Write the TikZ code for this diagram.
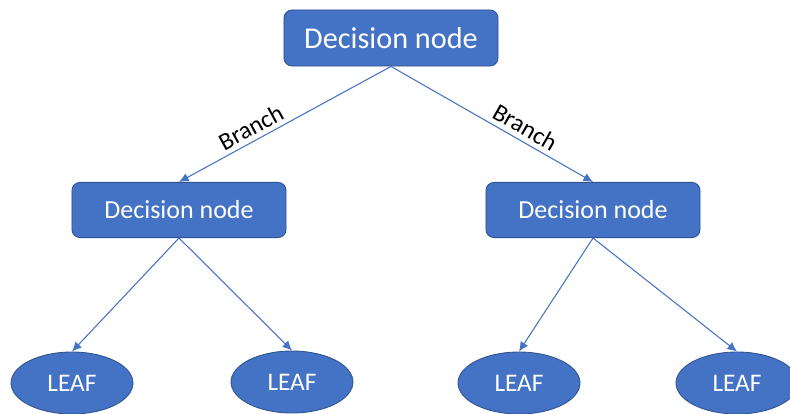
\documentclass[tikz,border=0pt]{standalone}
\usepackage{fontspec}
\setmainfont{Carlito}
\usepackage{xcolor}
\usepackage{tikz}
\usetikzlibrary{shapes.geometric}
\usetikzlibrary{arrows.meta}

\definecolor{nodeblue}{HTML}{4472C4}
\definecolor{nodeedge}{HTML}{2F528F}

\tikzset{
	decision/.style={shape=rectangle, rounded corners=0.2cm, draw=nodeedge, line width=0.6pt, fill=nodeblue, text=white, minimum width=5.35cm, minimum height=1.38cm},
	leaf/.style={shape=ellipse, draw=nodeedge, line width=0.6pt, fill=nodeblue, text=white, minimum width=3.05cm, minimum height=1.55cm, inner sep=0pt, font=\fontsize{18}{21}\selectfont},
	link/.style={draw=nodeblue, line width=0.75pt, -{Latex[length=2.4mm, width=2.2mm]}},
	branchlabel/.style={sloped, above, pos=0.63, text=black, font=\fontsize{17.5}{20}\selectfont}
}

\begin{document}
\begin{tikzpicture}[x=0.025cm, y=-0.025cm]
		\useasboundingbox (0, 0) rectangle (790, 414);
		% Nodes:
		\node[decision, minimum height=1.4cm, font=\fontsize{21.5}{25}\selectfont] (root) at (391, 38){Decision node};
		\node[decision, font=\fontsize{18.5}{22}\selectfont] (dleft) at (179, 210){Decision node};
		\node[decision, font=\fontsize{18.5}{22}\selectfont] (dright) at (593, 210){Decision node};
		\node[leaf] (leafA) at (72, 383){LEAF};
		\node[leaf] (leafB) at (292, 382){LEAF};
		\node[leaf] (leafC) at (519, 383){LEAF};
		\node[leaf] (leafD) at (737, 383){LEAF};
		% Branches:
		\draw[link] (root.south) -- node[branchlabel]{Branch} (dleft.north);
		\draw[link] (root.south) -- node[branchlabel]{Branch} (dright.north);
		\draw[link] (dleft.south) -- (leafA.north);
		\draw[link] (dleft.south) -- (leafB.north);
		\draw[link] (dright.south) -- (leafC.north);
		\draw[link] (dright.south) -- (leafD.north);
	\end{tikzpicture}
\end{document}
